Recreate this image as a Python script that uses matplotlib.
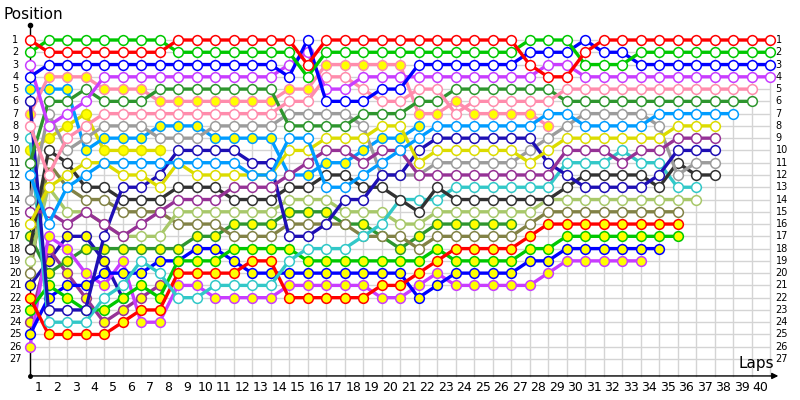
import matplotlib.pyplot as plt

# lap chart: each list is the position held at each lap, starting with the grid (lap 0)
laps = list(range(1, 41))
positions = list(range(1, 28))

red_hollow = [1, 2, 2, 2, 2, 2, 2, 2, 1, 1, 1, 1, 1, 1, 1, 3, 1, 1, 1, 1,
              1, 1, 1, 1, 1, 1, 1, 3, 4, 4, 2, 1, 1, 1, 1, 1, 1, 1, 1, 1, 1]
green_hollow = [2, 1, 1, 1, 1, 1, 1, 1, 2, 2, 2, 2, 2, 2, 2, 4, 2, 2, 2, 2,
                2, 2, 2, 2, 2, 2, 2, 1, 1, 1, 3, 3, 3, 2, 2, 2, 2, 2, 2, 2, 2]
blue_hollow = [4, 3, 3, 3, 3, 3, 3, 3, 3, 3, 3, 3, 3, 3, 4, 1, 6, 6, 6, 5,
               5, 3, 3, 3, 3, 3, 3, 2, 2, 2, 1, 2, 2, 3, 3, 3, 3, 3, 3, 3, 3]
violet_hollow = [3, 8, 7, 6, 4, 4, 4, 4, 4, 4, 4, 4, 4, 4, 3, 2, 5, 5, 4, 4,
                 4, 4, 4, 4, 4, 4, 4, 4, 3, 3, 4, 4, 4, 4, 4, 4, 4, 4, 4, 4, 4]
pink_hollow = [8, 12, 9, 8, 7, 7, 7, 7, 7, 7, 7, 7, 7, 7, 6, 6, 4, 4, 5, 6,
               6, 5, 5, 7, 6, 6, 6, 6, 6, 5, 5, 5, 5, 5, 5, 5, 5, 5, 5, 5]
dkgreen_hollow = [11, 6, 6, 5, 6, 6, 6, 5, 5, 5, 5, 5, 5, 5, 8, 8, 8, 8, 7, 7,
                  7, 6, 6, 5, 5, 5, 5, 5, 5, 6, 6, 6, 6, 6, 6, 6, 6, 6, 6, 6]
azure_hollow = [12, 16, 13, 12, 11, 11, 11, 11, 11, 11, 11, 11, 12, 12, 9, 9, 13, 13, 12, 11,
                10, 9, 8, 8, 8, 8, 8, 8, 7, 7, 8, 8, 8, 8, 7, 7, 7, 7, 7]
yellow_hollow = [16, 13, 12, 11, 11, 12, 12, 13, 11, 12, 12, 12, 12, 12, 10, 10, 9, 9, 9, 8,
                 8, 11, 10, 10, 10, 10, 10, 11, 10, 9, 9, 9, 9, 9, 9, 8, 8, 8]
purple_hollow = [15, 15, 16, 15, 16, 17, 16, 15, 14, 14, 14, 13, 13, 13, 12, 11, 10, 10, 11, 10,
                 10, 12, 12, 12, 12, 12, 12, 12, 12, 10, 10, 10, 11, 10, 10, 9, 9, 9]
navy_hollow = [6, 23, 23, 23, 17, 13, 13, 12, 10, 10, 10, 10, 11, 11, 17, 17, 16, 14, 14, 12,
               12, 10, 9, 9, 9, 9, 9, 9, 11, 12, 13, 13, 13, 13, 12, 10, 10, 10]
gray_hollow = [14, 7, 10, 9, 8, 8, 8, 9, 9, 9, 8, 8, 8, 8, 7, 7, 7, 7, 8, 12,
               12, 12, 11, 11, 11, 11, 11, 10, 9, 8, 7, 7, 7, 7, 8, 12, 11, 11]
black_hollow = [18, 10, 11, 13, 13, 14, 14, 14, 13, 13, 13, 14, 14, 14, 13, 13, 12, 12, 13, 13,
                14, 15, 13, 14, 14, 14, 14, 14, 14, 13, 12, 12, 12, 12, 13, 11, 12, 12]
cyan_hollow = [9, 24, 24, 24, 22, 21, 19, 20, 22, 22, 21, 21, 21, 21, 19, 18, 18, 18, 17, 16,
               14, 14, 14, 13, 13, 13, 13, 13, 13, 11, 11, 11, 10, 11, 11, 13, 13]
ltgreen_hollow = [19, 13, 15, 15, 16, 17, 17, 17, 15, 15, 15, 15, 15, 15, 14, 14, 14, 15, 15, 15,
                  16, 16, 15, 15, 15, 15, 15, 15, 14, 14, 14, 14, 14, 14, 14, 14, 14]
olive_hollow = [20, 11, 13, 14, 14, 15, 15, 15, 16, 16, 16, 17, 17, 17, 16, 16, 16, 16, 17, 17,
                17, 18, 17, 17, 17, 17, 17, 16, 15, 15, 15, 15, 15, 15, 15, 15]
red_filled = [22, 25, 25, 25, 25, 24, 23, 23, 20, 20, 20, 20, 19, 19, 22, 22, 22, 22, 22, 21,
              21, 20, 19, 18, 18, 18, 18, 17, 16, 16, 16, 16, 16, 16, 16, 16]
green_filled = [23, 21, 22, 23, 23, 22, 21, 22, 19, 19, 19, 18, 18, 18, 18, 19, 19, 19, 19, 19,
                19, 19, 18, 19, 19, 19, 19, 18, 18, 17, 17, 17, 17, 17, 17, 17]
blue_filled = [25, 22, 21, 21, 20, 20, 20, 19, 19, 18, 18, 19, 20, 20, 20, 20, 20, 20, 20, 20,
               20, 22, 21, 20, 20, 20, 20, 19, 19, 18, 18, 18, 18, 18, 18]
violet_filled = [26, 17, 18, 20, 21, 19, 24, 24, 21, 21, 22, 22, 22, 22, 21, 21, 21, 21, 21, 22,
                 22, 21, 20, 21, 21, 21, 21, 21, 20, 19, 19, 19, 19, 19]
pink_filled = [7, 4, 4, 4, 5, 5, 5, 6, 6, 6, 6, 6, 6, 6, 5, 5, 3, 3, 3, 3,
               3, 7, 7, 6, 7, 7, 7, 7, 8]
azure_filled = [5, 5, 5, 10, 9, 9, 9, 8, 8, 8, 9, 9, 9, 9, 12, 12, 11, 11, 10, 9, 9, 8]
yellow_filled = [10, 9, 8, 7, 10, 10, 10, 10]
dkgreen_filled = [17, 20, 19, 18, 18, 18, 18, 18, 18, 17, 17, 16, 16, 16, 15, 15, 15, 16, 16, 17,
                  18, 17, 16, 16, 16, 16, 16]
purple_filled = [24, 18, 20, 22, 24, 23, 22, 21]
navy_filled = [21, 19, 17, 17, 19, 22]

RED, GREEN, BLUE, VIOLET = '#ff0000', '#00c800', '#0000ff', '#c83cff'
PINK, DKGREEN, AZURE, YELLOW = '#ff8cac', '#2e962e', '#009cff', '#dcdc00'
PURPLE, NAVY, GRAY, BLACK = '#963296', '#1e0fb4', '#9c9c9c', '#323232'
CYAN, LTGREEN, OLIVE = '#32c8c8', '#a8c86a', '#828246'

# (positions, line colour, yellow-filled marker)
drivers = [
    (navy_filled, NAVY, True),
    (purple_filled, PURPLE, True),
    (yellow_filled, YELLOW, True),
    (dkgreen_filled, DKGREEN, True),
    (azure_filled, AZURE, True),
    (pink_filled, PINK, True),
    (violet_filled, VIOLET, True),
    (blue_filled, BLUE, True),
    (green_filled, GREEN, True),
    (red_filled, RED, True),
    (olive_hollow, OLIVE, False),
    (ltgreen_hollow, LTGREEN, False),
    (cyan_hollow, CYAN, False),
    (black_hollow, BLACK, False),
    (gray_hollow, GRAY, False),
    (navy_hollow, NAVY, False),
    (purple_hollow, PURPLE, False),
    (yellow_hollow, YELLOW, False),
    (azure_hollow, AZURE, False),
    (dkgreen_hollow, DKGREEN, False),
    (pink_hollow, PINK, False),
    (violet_hollow, VIOLET, False),
    (blue_hollow, BLUE, False),
    (green_hollow, GREEN, False),
    (red_hollow, RED, False),
]

fig = plt.figure(figsize=(8, 4), dpi=100)
ax = fig.add_axes([0, 0, 1, 1])
ax.set_xlim(-30 / 18.5, 770 / 18.5)
ax.set_ylim(30.34, -2.26)
ax.axis('off')

n_laps = len(laps)
bottom = 28.38

# grid
for lap in range(0, n_laps + 1):
    ax.plot([lap, lap], [0.6, bottom], color='#d4d4d4', lw=1, zorder=1)
for p in positions:
    ax.plot([0, n_laps], [p, p], color='#d4d4d4', lw=1, zorder=1)

# axes with arrows
ax.plot([0, 0], [bottom, -0.2], color='black', lw=1, zorder=2)
ax.plot([0], [-0.2], marker='o', color='black', ms=3, zorder=2)
ax.plot([0], [bottom], marker='o', color='black', ms=2.5, zorder=2)
ax.annotate('', xy=(n_laps + 0.45, bottom), xytext=(0, bottom),
            arrowprops=dict(arrowstyle='-|>', color='black', lw=1,
                            mutation_scale=9, shrinkA=0, shrinkB=0), zorder=2)

# drivers
for pos, color, filled in drivers:
    x = list(range(len(pos)))
    ax.plot(x, pos, color=color, lw=2.4, marker='o', ms=7,
            markerfacecolor='#ffff00' if filled else 'white',
            markeredgecolor=color, markeredgewidth=1.1, zorder=3)

# labels
for lap in laps:
    ax.text(lap - 0.52, 29.36, str(lap), ha='center', va='center', fontsize=9)
for p in positions:
    ax.text(-0.8, p, str(p), ha='center', va='center', fontsize=7)
    ax.text(n_laps + 0.3, p, str(p), ha='left', va='center', fontsize=7)

ax.text(-1.45, -1.04, 'Position', ha='left', va='center', fontsize=11)
ax.text(n_laps + 0.2, 27.4, 'Laps', ha='right', va='center', fontsize=11)

fig.savefig('out.png', dpi=100)
